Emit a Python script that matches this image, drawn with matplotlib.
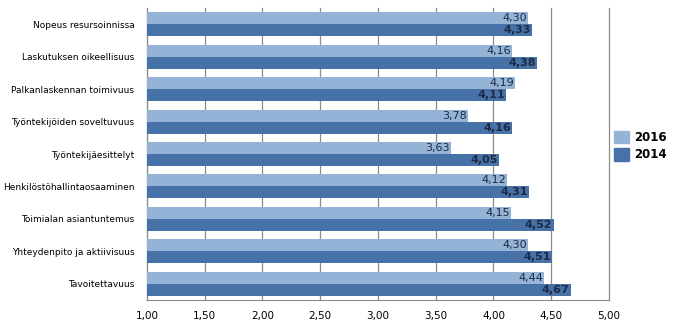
import numpy as np
import matplotlib
matplotlib.use("Agg")
import matplotlib.pyplot as plt
from matplotlib.patches import Patch

categories = [
    "Nopeus resursoinnissa",
    "Laskutuksen oikeellisuus",
    "Palkanlaskennan toimivuus",
    "Työntekijöiden soveltuvuus",
    "Työntekijäesittelyt",
    "Henkilöstöhallintaosaaminen",
    "Toimialan asiantuntemus",
    "Yhteydenpito ja aktiivisuus",
    "Tavoitettavuus",
]
vals_2016 = [4.30, 4.16, 4.19, 3.78, 3.63, 4.12, 4.15, 4.30, 4.44]
vals_2014 = [4.33, 4.38, 4.11, 4.16, 4.05, 4.31, 4.52, 4.51, 4.67]
xticks = [1.0, 1.5, 2.0, 2.5, 3.0, 3.5, 4.0, 4.5, 5.0]

c2016 = "#95B3D7"
c2014 = "#4672A8"
txt = "#1F2A44"


def fmt(v):
    return ("%.2f" % v).replace(".", ",")


fig = plt.figure(figsize=(6.73, 3.28), dpi=100)
ax = fig.add_axes([0.2184, 0.0854, 0.6865, 0.89])

y = np.arange(len(categories))
h = 0.37
ax.barh(y - h / 2, [v - 1 for v in vals_2016], left=1, height=h, color=c2016, zorder=3)
ax.barh(y + h / 2, [v - 1 for v in vals_2014], left=1, height=h, color=c2014, zorder=3)

for i in range(len(categories)):
    ax.text(vals_2016[i] - 0.01, y[i] - h / 2, fmt(vals_2016[i]), ha="right", va="center",
            fontsize=8, color=txt, zorder=4)
    ax.text(vals_2014[i] - 0.01, y[i] + h / 2, fmt(vals_2014[i]), ha="right", va="center",
            fontsize=8, color=txt, fontweight="bold", zorder=4)

ax.set_xlim(1, 5)
ax.set_ylim(len(categories) - 0.5, -0.5)
ax.set_xticks(xticks)
ax.set_xticklabels([fmt(t) for t in xticks], fontsize=7.5)
ax.set_yticks(y)
ax.set_yticklabels(categories, fontsize=6.5)
ax.tick_params(axis="y", length=0, pad=9)
ax.tick_params(axis="x", length=0, pad=8)
ax.grid(axis="x", color="#8C8C8C", linewidth=0.9, zorder=0)
for gl in ax.get_xgridlines():
    gl.set_clip_on(False)
for s in ["top", "right"]:
    ax.spines[s].set_visible(False)
ax.spines["left"].set_color("#8C8C8C")
ax.spines["bottom"].set_color("#8C8C8C")

handles = [Patch(color=c2016, label="2016"), Patch(color=c2014, label="2014")]
fig.legend(handles=handles, loc="center left", bbox_to_anchor=(0.91, 0.555), frameon=False,
           prop={"weight": "bold", "size": 8.5}, handlelength=1.3, handleheight=1.3,
           handletextpad=0.4, labelspacing=0.35, borderpad=0.1, borderaxespad=0)

fig.savefig("out.png", dpi=100)
